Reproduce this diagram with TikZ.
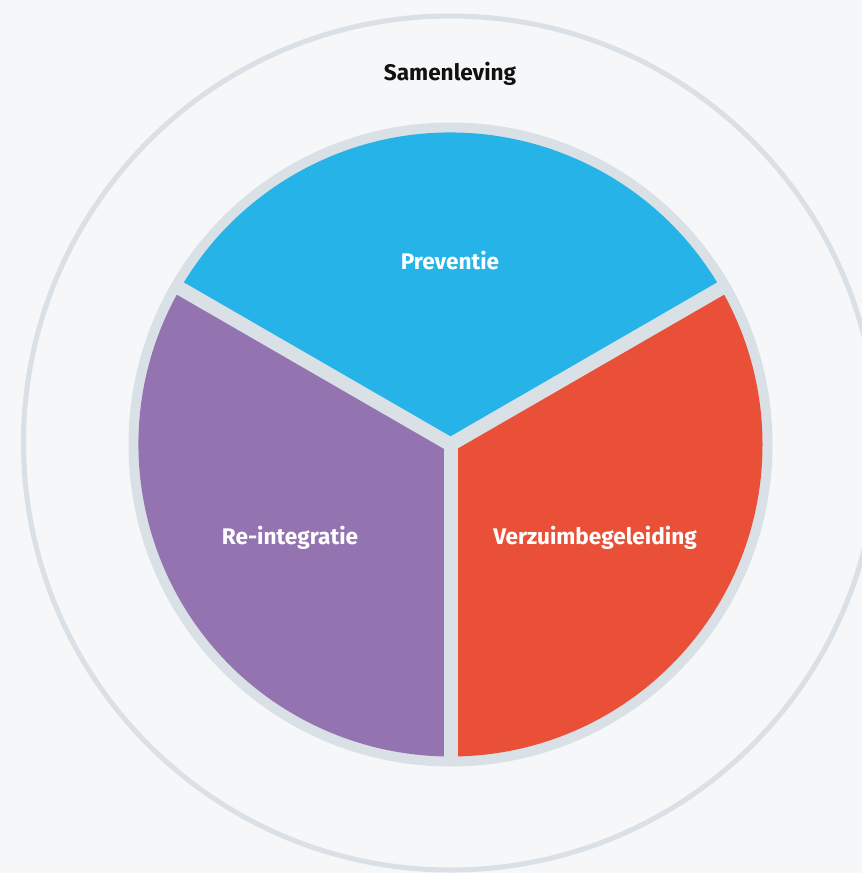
\documentclass[tikz,border=0pt]{standalone}
\usepackage{fontspec}
\setmainfont{Fira Sans}
\usetikzlibrary{calc}
\definecolor{bgc}{HTML}{F5F7F9}
\definecolor{ringc}{HTML}{D9E0E6}
\definecolor{bluec}{HTML}{26B3E7}
\definecolor{redc}{HTML}{E95037}
\definecolor{purplec}{HTML}{9473B1}
\definecolor{textc}{HTML}{111111}
\tikzset{
  lbl/.style={font=\fontsize{22.6}{27}\selectfont\bfseries, text=white, inner sep=0pt},
  divider/.style={draw=ringc, line width=14pt, line cap=butt},
}
\begin{document}
\begin{tikzpicture}[x=1pt,y=-1pt]
\useasboundingbox (0,0) rectangle (862,873);
\fill[bgc] (0,0) rectangle (862,873);
\clip (0,0) rectangle (862,873);
\coordinate (c) at (450.5,444.5);
\coordinate (oc) at (450.5,443);
% outer ring
\draw[ringc, line width=5pt] (oc) circle[radius=427];
% pie background
\fill[ringc] (c) circle[radius=322];
% sectors (y flipped)
\fill[bluec] (c) -- ++(-30:312) arc[start angle=-30, end angle=-150, radius=312] -- cycle;
\fill[redc] (c) -- ++(90:312) arc[start angle=90, end angle=-30, radius=312] -- cycle;
\fill[purplec] (c) -- ++(-150:312) arc[start angle=-150, end angle=-270, radius=312] -- cycle;
% dividers
\coordinate (d1) at ($(c)+(-30:318)$);
\coordinate (d2) at ($(c)+(-150:318)$);
\coordinate (d3) at ($(c)+(90:318)$);
\draw[divider] (c) -- (d1);
\draw[divider] (c) -- (d2);
\draw[divider] (c) -- (d3);
\fill[ringc] (c) circle[radius=7];
% labels
\node[lbl, text=textc] (sam) at (450,74) {Samenleving};
\node[lbl] (prev) at (450,261) {Preventie};
\node[lbl] (reint) at (290,538) {Re-integratie};
\node[lbl] (verz) at (595,538) {Verzuimbegeleiding};
\end{tikzpicture}
\end{document}
